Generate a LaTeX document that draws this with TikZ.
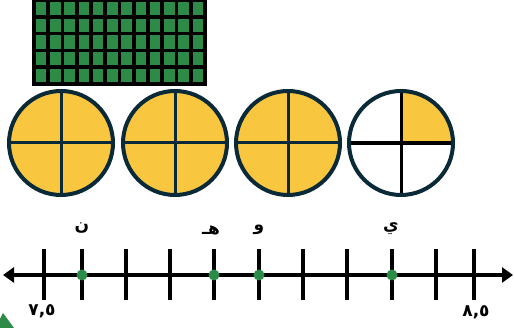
\documentclass[tikz,border=0pt]{standalone}
\usepackage{fontspec}
\usetikzlibrary{arrows.meta}
\newfontfamily\arabicfont[Script=Arabic]{DejaVu Sans}
\TeXXeTstate=1
\definecolor{gridgreen}{HTML}{2E8B47}
\definecolor{pieyellow}{HTML}{F9C640}
\definecolor{navy}{HTML}{0A2A38}
\definecolor{dotgreen}{HTML}{2A8C48}
\begin{document}
\begin{tikzpicture}[x=1pt,y=-1pt,
  pie/.style={circle,minimum size=104pt,inner sep=0pt,outer sep=0pt,fill=pieyellow},
  rim/.style={draw=navy,line width=4pt},
  crossline/.style={navy,line width=3pt},
  tickline/.style={black,line width=3.3pt},
  ptdot/.style={circle,fill=dotgreen,minimum size=11pt,inner sep=0pt},
  lbl/.style={font=\arabicfont\bfseries\fontsize{17}{17}\selectfont,inner sep=0pt}]
\useasboundingbox (0,0) rectangle (514,328);
% grid
\fill[gridgreen] (34,0) rectangle (205,84);
\foreach \i in {0,...,12}
  \draw[black,line width=3.6pt] ({34+\i*14.25},-2) -- ({34+\i*14.25},85.5);
\foreach \j in {0,...,5}
  \draw[black,line width=3.6pt] (32.2,{84-\j*16.8}) -- (206.8,{84-\j*16.8});
% circles
\foreach \n/\x in {1/61,2/175,3/288} {
  \node[pie] (c\n) at (\x,143) {};
  \draw[crossline] (c\n.north) -- (c\n.south);
  \draw[crossline] (c\n.west) -- (c\n.east);
  \draw[rim] (c\n.center) circle[radius=52];
}
\node[pie,fill=white] (c4) at (401,143) {};
\fill[pieyellow] (c4.center) -- (c4.east) arc[start angle=0,end angle=-90,radius=52] -- cycle;
\draw[black,line width=3pt] (c4.north) -- (c4.south);
\draw[black,line width=3.6pt] (c4.west) -- (c4.east);
\draw[rim] (c4.center) circle[radius=52];
% number line
\coordinate (L) at (3,275);
\coordinate (R) at (513,275);
\draw[black,line width=3.2pt,{Triangle[length=11pt,width=15pt]}-{Triangle[length=11pt,width=15pt]}] (L) -- (R);
\foreach \k/\x in {1/44,2/82,3/126,4/170,5/214,6/259,7/303,8/347,9/392,10/436,11/474} {
  \coordinate (t\k) at (\x,275);
  \draw[tickline] ([yshift=26pt]t\k) -- ([yshift=-25pt]t\k);
}
\foreach \k in {2,5,6,9} \node[ptdot] (d\k) at (t\k) {};
% labels
\node[lbl] (ln) at (82,228) {\beginR ن\endR};
\node[lbl] (lh) at (211,230) {\beginR هـ\endR};
\node[lbl] (lw) at (259,230) {\beginR و\endR};
\node[lbl] (ly) at (391,229) {\beginR ي\endR};
\node[lbl] (lo) at (42,311) {٧,٥};
\node[lbl] (le) at (476,312) {٨,٥};
% corner shape
\fill[gridgreen] (0,319) -- (3,313) -- (14,328) -- (0,328) -- cycle;
\end{tikzpicture}
\end{document}
